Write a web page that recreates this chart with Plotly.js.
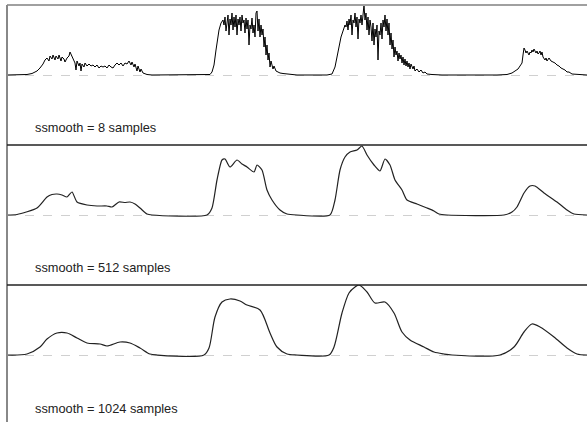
<!DOCTYPE html>
<html>
<head>
<meta charset="utf-8">
<script src="https://cdn.plot.ly/plotly-3.0.1.min.js"></script>
<style>html,body{margin:0;padding:0;background:#fff;}#chart{width:587px;height:422px;}</style>
</head>
<body>
<div id="chart"></div>
<script>
// Time axis (arbitrary units) and envelope amplitude (normalised, 1 = panel top)
// Panel 1: ssmooth = 8 samples (raw heights read in pixels /70)
const t8 = [0,20,25,30,33,36,38,40,42,43,45,46,48,49,51,52,54,55,57,58,60,62,63,65,66,68,69,70,72,73,74,75,77,78,80,82,84,86,88,90,92,94,96,98,100,102,104,106,108,110,112,114,116,118,120,122,124,125,127,128,130,131,133,134,136,138,140,145,
195,203,205,207,209,211,212,214,216,217,218,219,220,221,222,223,224,225,226,227,228,229,230,231,232,233,234,235,236,237,238,239,240,241,242,243,244,245,246,247,248,249,250,251,252,253,254,255,256,257,258,259,260,261,262,263,264,266,267,269,271,273,276,280,286,290,
320,325,328,330,332,334,336,338,339,340,341,342,343,344,345,346,347,348,349,350,351,352,353,354,355,356,357,358,359,360,361,362,363,364,365,366,367,368,369,370,371,372,373,374,375,376,377,378,379,380,381,382,383,384,385,386,387,388,389,390,391,392,393,394,395,396,397,398,399,400,401,402,403,404,406,407,408,410,412,414,416,418,420,425,435,
490,500,505,508,511,513,515,516,517,518,519,520,521,522,523,524,525,526,527,528,529,530,531,532,533,534,535,536,537,538,539,540,542,544,546,548,550,552,554,556,558,560,562,565,570,580];
const h8 = [0,0.5,1.5,4,7,11,15,17,14,19,16,20,15,19,16,20,14,18,16,13,17,19,23,18,15,12,5,14,9,12,4,11,8,12,9,11,9,10,8,10,7,9,8,9,7,10,8,7,10,12,10,12,9,12,11,14,10,13,8,11,4,9,3,6,2,1,0.5,0,
0,0.5,3,10,25,38,45,52,55,50,58,44,55,60,40,56,50,62,45,58,48,60,40,56,50,58,44,60,52,55,42,57,46,55,30,50,46,57,42,50,38,62,64,44,56,38,50,40,46,28,38,20,30,15,22,8,14,6,9,4,3,2,1.5,1,0.5,0,
0,1,8,18,28,38,44,50,48,54,45,56,50,60,40,55,52,62,48,58,36,56,52,60,50,66,70,55,62,45,58,40,55,48,34,52,30,46,38,50,15,44,40,52,36,55,48,60,44,56,40,52,30,42,26,35,18,28,20,24,14,22,16,20,12,18,10,16,9,14,8,12,6,11,6,9,4,6,3,5,2,3,1,0.5,0,
0,0.5,2,4,6,9,12,20,27,25,22,24,21,20,23,22,25,23,26,24,22,24,21,22,24,20,23,18,16,15,17,14,17,14,13,12,10,9,7,6,5,3,3,1,0.5,0];

// Panel 2: ssmooth = 512 samples
const t512 = [0,10,30,40,45,50,55,60,65,70,80,90,100,105,112,118,123,128,133,140,145,
200,205,210,215,218,223,230,235,240,247,250,255,260,265,273,280,290,
323,328,333,338,343,350,355,360,367,373,378,383,388,395,400,410,420,427,432,440,
497,505,510,517,523,528,537,550,560,567,580];
const h512 = [0,0.5,7,18,20.5,21,20,18,23,13,10,9,9,8,13,12.5,13,11,7,1,0,
0,7,35,55,56,48,55,51,48,43,50,45,25,15,5,1,0,
0,15,45,58,63,65,69,60,50,44,56,50,35,25,15,11,7,4,1,0,
0,3,8,22,29,29,22,13,5,1,0];

// Panel 3: ssmooth = 1024 samples
const t1024 = [0,20,33,40,50,60,70,80,93,100,113,123,133,143,150,
197,202,208,215,223,233,240,253,263,270,280,290,
322,327,335,342,348,352,360,368,378,387,395,403,417,427,437,445,
493,507,517,525,533,547,560,570,580];
const h1024 = [0,1,8,16,22,22,17,12,11,9,13,12,7,1,0,
0,7,38,53,56,54,50,45,22,8,1,0,
0,8,42,62,68,70,63,52,53,42,23,15,8,3,1,0,
0,8,23,31,28,18,7,1,0];

const labels = ['ssmooth = 8 samples','ssmooth = 512 samples','ssmooth = 1024 samples'];
const H = 70;
const norm = a => a.map(v => v / H);

const traces = [
  {x: t8, y: norm(h8), xaxis: 'x', yaxis: 'y', line: {color: '#000', width: 1}},
  {x: t512, y: norm(h512), xaxis: 'x2', yaxis: 'y2', line: {color: '#222', width: 1.2, shape: 'spline', smoothing: 0.6}},
  {x: t1024, y: norm(h1024), xaxis: 'x3', yaxis: 'y3', line: {color: '#222', width: 1.2, shape: 'spline', smoothing: 0.8}}
].map(t => Object.assign(t, {type: 'scatter', mode: 'lines', hoverinfo: 'skip', showlegend: false}));

const xa = {range: [0, 580], showgrid: false, zeroline: false, showticklabels: false, ticks: '', showline: false};
const ya = (dom, rng) => ({domain: dom, range: rng, tickvals: [0], showticklabels: false, ticks: '', showgrid: true,
  gridcolor: '#d0d0d0', griddash: 'dash', gridwidth: 1, zeroline: false, showline: false});

const d1 = 277/417, d2 = 137/417;
const layout = {
  width: 587, height: 422,
  margin: {l: 7, r: 0, t: 5, b: 0},
  paper_bgcolor: '#fff', plot_bgcolor: '#fff',
  xaxis: Object.assign({anchor: 'y'}, xa),
  xaxis2: Object.assign({anchor: 'y2'}, xa),
  xaxis3: Object.assign({anchor: 'y3'}, xa),
  yaxis: ya([d1, 1], [-1, 1]),
  yaxis2: ya([d2, d1], [-1, 1]),
  yaxis3: ya([0, d2], [-67/70, 1]),
  font: {family: 'Liberation Sans, Arial, sans-serif', size: 12.8, color: '#222'},
  annotations: labels.map((txt, i) => ({
    text: txt, xref: i === 0 ? 'x' : 'x' + (i + 1), yref: i === 0 ? 'y' : 'y' + (i + 1),
    x: 26, y: i === 2 ? -0.771 : -0.757, xanchor: 'left', yanchor: 'middle', showarrow: false,
    font: {size: 12.8, color: '#222'}
  })),
  shapes: [
    {type: 'line', xref: 'paper', yref: 'paper', x0: 0, x1: 1, y0: 1, y1: 1, line: {color: '#a0a0a0', width: 2}},
    {type: 'line', xref: 'paper', yref: 'paper', x0: 0, x1: 0, y0: 0, y1: 1, line: {color: '#888', width: 2}},
    {type: 'line', xref: 'paper', yref: 'paper', x0: 0, x1: 1, y0: d1, y1: d1, line: {color: '#222', width: 1.5}},
    {type: 'line', xref: 'paper', yref: 'paper', x0: 0, x1: 1, y0: d2, y1: d2, line: {color: '#222', width: 1.5}}
  ]
};

Plotly.newPlot('chart', traces, layout, {staticPlot: true, displayModeBar: false});
</script>
</body>
</html>
